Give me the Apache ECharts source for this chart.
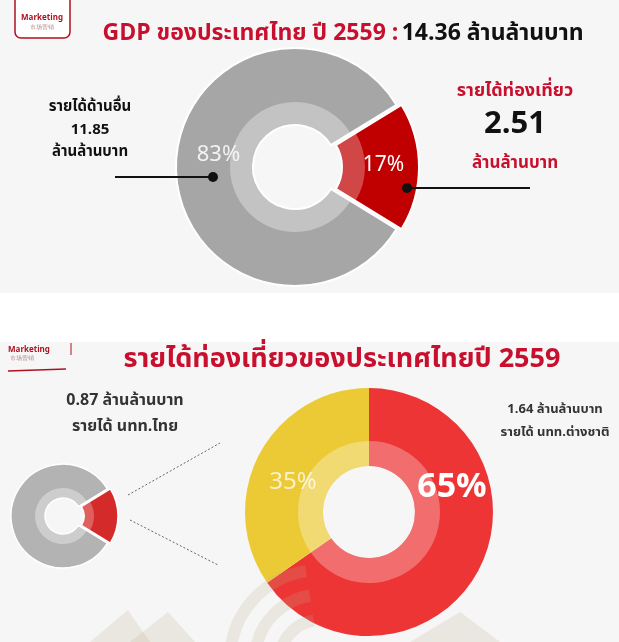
<!DOCTYPE html>
<html>
<head>
<meta charset="utf-8">
<script src="https://cdn.jsdelivr.net/npm/echarts@6/dist/echarts.min.js"></script>
<style>
html,body{margin:0;padding:0;background:#fff;}
#c{width:619px;height:642px;}
</style>
</head>
<body>
<div id="c"></div>
<script>
// ---- data ----
const gdpTitleYear = '2559';
const gdpTotal = 14.36;
const gdpCategories = ['รายได้ท่องเที่ยว', 'รายได้ด้านอื่น'];
const gdpValues = [2.51, 11.85];
const gdpPercentLabels = ['17%', '83%'];

const tourismCategories = ['รายได้ นทท.ต่างชาติ', 'รายได้ นทท.ไทย'];
const tourismValues = [1.64, 0.87];
const tourismPercentLabels = ['65%', '35%'];

const unitText = 'ล้านล้านบาท';

// ---- styling ----
const FONT = '"Noto Sans Thai", "Noto Sans", "Open Sans", sans-serif';
const RED = '#c8102e';

const chart = echarts.init(document.getElementById('c'), null, {renderer: 'canvas'});

const gdpStart = (gdpValues[0] / (gdpValues[0] + gdpValues[1])) * 180;

function pieData(cats, vals, colors, labels, offsets, sizes, selIdx) {
  return cats.map((c, i) => ({
    name: c,
    value: vals[i],
    selected: i === selIdx,
    itemStyle: {color: colors[i]},
    label: labels ? {
      show: true, position: 'inside', formatter: labels[i],
      offset: offsets[i], fontSize: sizes[i].size, fontWeight: sizes[i].weight,
      color: sizes[i].color, fontFamily: FONT
    } : {show: false}
  }));
}

const WM = 'rgba(190,170,140,0.2)';

const option = {
  animation: false,
  backgroundColor: '#ffffff',
  graphic: [
    // panel backgrounds
    {type: 'rect', z: -10, shape: {x: 0, y: 0, width: 619, height: 293}, style: {fill: '#f6f6f6'}},
    {type: 'rect', z: -10, shape: {x: 0, y: 342, width: 619, height: 300}, style: {fill: '#f6f6f6'}},
    // top logo
    {type: 'rect', shape: {x: 15, y: -8, width: 55, height: 46, r: 6}, style: {fill: '#fff', stroke: '#b01020', lineWidth: 1.5}},
    {type: 'text', x: 42, y: 18, style: {text: 'Marketing', fill: '#b01020', font: 'bold 8px ' + FONT, align: 'center', verticalAlign: 'middle'}},
    {type: 'text', x: 42, y: 28, style: {text: '市场营销', fill: '#b58a8a', font: '6px ' + FONT, align: 'center', verticalAlign: 'middle'}},
    // top title
    {type: 'text', x: 343, y: 35, style: {
      text: '{r|GDP ของประเทศไทย ปี ' + gdpTitleYear + ' :} {k|' + gdpTotal.toFixed(2) + ' ' + unitText + '}',
      align: 'center', verticalAlign: 'middle',
      rich: {
        r: {fill: RED, font: 'bold 23px ' + FONT},
        k: {fill: '#111', font: 'bold 23px ' + FONT}
      }
    }},
    // left annotation top
    {type: 'text', x: 90, y: 108, style: {text: gdpCategories[1], fill: '#111', font: 'bold 15px ' + FONT, align: 'center', verticalAlign: 'middle'}},
    {type: 'text', x: 90, y: 131, style: {text: gdpValues[1].toFixed(2), fill: '#111', font: 'bold 15px ' + FONT, align: 'center', verticalAlign: 'middle'}},
    {type: 'text', x: 90, y: 153, style: {text: unitText, fill: '#111', font: 'bold 15px ' + FONT, align: 'center', verticalAlign: 'middle'}},
    {type: 'line', z: 20, shape: {x1: 115, y1: 177, x2: 213, y2: 177}, style: {stroke: '#111', lineWidth: 2}},
    {type: 'circle', z: 20, shape: {cx: 213, cy: 177, r: 5}, style: {fill: '#111'}},
    // right annotation top
    {type: 'text', x: 515, y: 92, style: {text: gdpCategories[0], fill: RED, font: 'bold 18px ' + FONT, align: 'center', verticalAlign: 'middle'}},
    {type: 'text', x: 515, y: 127, style: {text: gdpValues[0].toFixed(2), fill: '#111', font: 'bold 31px ' + FONT, align: 'center', verticalAlign: 'middle'}},
    {type: 'text', x: 515, y: 165, style: {text: unitText, fill: RED, font: 'bold 17px ' + FONT, align: 'center', verticalAlign: 'middle'}},
    {type: 'line', z: 20, shape: {x1: 407, y1: 188, x2: 530, y2: 188}, style: {stroke: '#111', lineWidth: 2}},
    {type: 'circle', z: 20, shape: {cx: 407, cy: 188, r: 5}, style: {fill: '#111'}},
    // bottom logo
    {type: 'text', x: 8, y: 350, style: {text: 'Marketing', fill: '#b01020', font: 'bold 8px ' + FONT, align: 'left', verticalAlign: 'middle'}},
    {type: 'text', x: 10, y: 359, style: {text: '市场营销', fill: '#b58a8a', font: '6px ' + FONT, align: 'left', verticalAlign: 'middle'}},
    {type: 'line', shape: {x1: 71, y1: 343, x2: 71, y2: 355}, style: {stroke: '#b01020', lineWidth: 1}},
    {type: 'line', shape: {x1: 8, y1: 371, x2: 66, y2: 369}, style: {stroke: '#b01020', lineWidth: 1.5}},
    // bottom title
    {type: 'text', x: 342, y: 362, style: {text: 'รายได้ท่องเที่ยวของประเทศไทยปี ' + gdpTitleYear, fill: RED, font: 'bold 27px ' + FONT, align: 'center', verticalAlign: 'middle'}},
    // bottom annotations
    {type: 'text', x: 125, y: 402, style: {text: tourismValues[1].toFixed(2) + ' ' + unitText, fill: '#333', font: 'bold 16px ' + FONT, align: 'center', verticalAlign: 'middle'}},
    {type: 'text', x: 125, y: 428, style: {text: tourismCategories[1], fill: '#333', font: 'bold 16px ' + FONT, align: 'center', verticalAlign: 'middle'}},
    {type: 'text', x: 555, y: 410, style: {text: tourismValues[0].toFixed(2) + ' ' + unitText, fill: '#333', font: 'bold 13px ' + FONT, align: 'center', verticalAlign: 'middle'}},
    {type: 'text', x: 555, y: 433, style: {text: tourismCategories[0], fill: '#333', font: 'bold 13px ' + FONT, align: 'center', verticalAlign: 'middle'}},
    // dashed connectors
    {type: 'line', shape: {x1: 128, y1: 495, x2: 220, y2: 443}, style: {stroke: '#666', lineWidth: 1, lineDash: [2, 2]}},
    {type: 'line', shape: {x1: 130, y1: 520, x2: 218, y2: 565}, style: {stroke: '#666', lineWidth: 1, lineDash: [2, 2]}},
    // watermark decoration (bottom)
    {type: 'polygon', z: 30, shape: {points: [[90, 642], [128, 610], [150, 642]]}, style: {fill: WM}},
    {type: 'polygon', z: 30, shape: {points: [[130, 642], [168, 612], [195, 642]]}, style: {fill: WM}},
    {type: 'polygon', z: 30, shape: {points: [[410, 642], [460, 612], [500, 642]]}, style: {fill: WM}},
    {type: 'arc', z: 30, shape: {cx: 320, cy: 660, r: 90, startAngle: Math.PI * 1.05, endAngle: Math.PI * 1.45}, style: {stroke: WM, lineWidth: 12, fill: 'none'}},
    {type: 'arc', z: 30, shape: {cx: 320, cy: 660, r: 65, startAngle: Math.PI * 1.05, endAngle: Math.PI * 1.45}, style: {stroke: WM, lineWidth: 12, fill: 'none'}},
    {type: 'arc', z: 30, shape: {cx: 320, cy: 660, r: 40, startAngle: Math.PI * 1.05, endAngle: Math.PI * 1.45}, style: {stroke: WM, lineWidth: 12, fill: 'none'}}
  ],
  series: [
    // top donut
    {
      type: 'pie', center: [295, 167], radius: [42, 119], startAngle: gdpStart,
      selectedMode: 'single', selectedOffset: 5, silent: true,
      itemStyle: {borderColor: '#fff', borderWidth: 2},
      labelLine: {show: false},
      data: pieData(gdpCategories, gdpValues, ['#c00000', '#a6a6a6'], [gdpPercentLabels[0], gdpPercentLabels[1]],
        [[8, 0], [7, -10]],
        [{size: 21, weight: 'normal', color: '#fff'}, {size: 22, weight: 'normal', color: '#f2f2f2'}], 0)
    },
    {
      type: 'pie', center: [295, 167], radius: [42, 65], startAngle: gdpStart,
      selectedMode: 'single', selectedOffset: 5, silent: true, z: 3,
      itemStyle: {borderWidth: 0},
      label: {show: false}, labelLine: {show: false},
      data: pieData(gdpCategories, gdpValues, ['rgba(255,255,255,0.28)', 'rgba(255,255,255,0.33)'], null, null, null, 0)
    },
    // small donut (bottom left)
    {
      type: 'pie', center: [63, 516], radius: [18, 52], startAngle: gdpStart,
      selectedMode: 'single', selectedOffset: 3, silent: true,
      itemStyle: {borderColor: '#fff', borderWidth: 1.5},
      label: {show: false}, labelLine: {show: false},
      data: pieData(gdpCategories, gdpValues, ['#d42a2a', '#b3b3b3'], null, null, null, 0)
    },
    {
      type: 'pie', center: [63, 516], radius: [18, 28], startAngle: gdpStart,
      selectedMode: 'single', selectedOffset: 3, silent: true, z: 3,
      itemStyle: {borderWidth: 0},
      label: {show: false}, labelLine: {show: false},
      data: pieData(gdpCategories, gdpValues, ['rgba(255,255,255,0.25)', 'rgba(255,255,255,0.35)'], null, null, null, 0)
    },
    // big donut
    {
      type: 'pie', center: [369, 512], radius: [46, 124], startAngle: 90, silent: true,
      labelLine: {show: false},
      data: pieData(tourismCategories, tourismValues, ['#ee3535', '#ebca35'], tourismPercentLabels,
        [[5, -63], [2, 13]],
        [{size: 34, weight: 'bold', color: '#fff'}, {size: 24, weight: 'normal', color: 'rgba(255,255,255,0.75)'}], -1)
    },
    {
      type: 'pie', center: [369, 512], radius: [46, 71], startAngle: 90, silent: true, z: 3,
      itemStyle: {borderWidth: 0},
      label: {show: false}, labelLine: {show: false},
      data: pieData(tourismCategories, tourismValues, ['rgba(255,255,255,0.28)', 'rgba(255,255,255,0.3)'], null, null, null, -1)
    }
  ]
};
chart.setOption(option);
</script>
</body>
</html>
